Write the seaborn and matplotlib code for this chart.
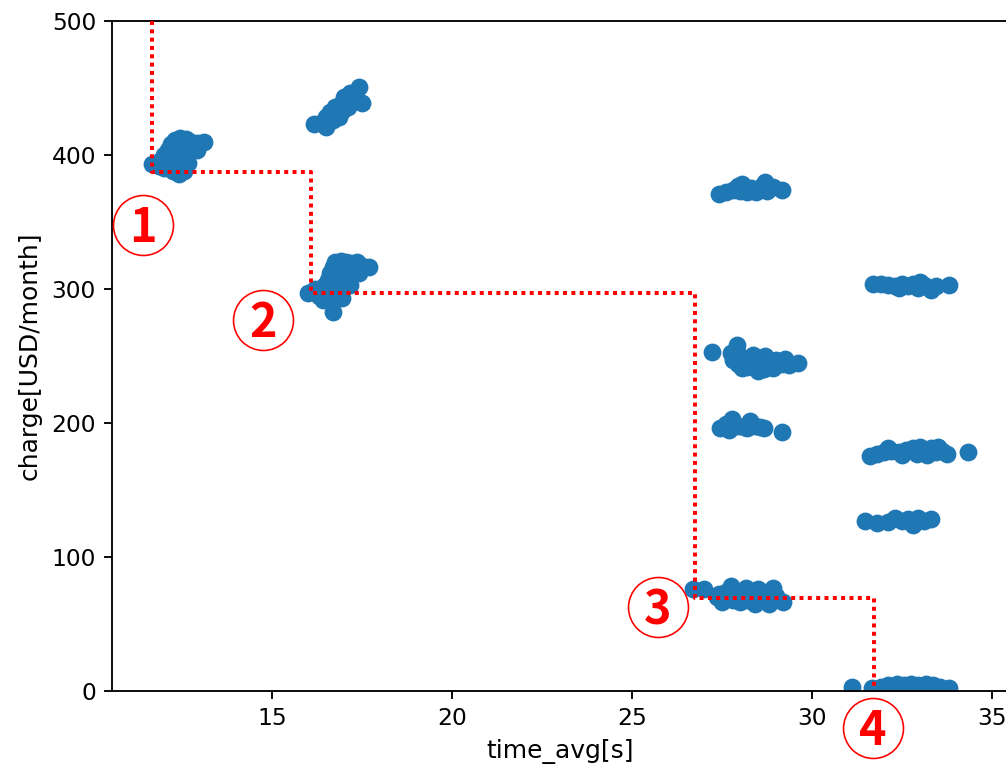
import matplotlib.pyplot as plt
import seaborn as sns
import pandas as pd

# 測定データ (time_avg[s], charge[USD/month])
time_avg = [
    # 構成 A
    11.67, 11.85, 11.9, 12.0, 12.0, 12.1, 12.1, 12.15, 12.2, 12.2, 12.25, 12.3, 12.3, 12.35, 12.4,
    12.4, 12.45, 12.45, 12.5, 12.5, 12.55, 12.6, 12.6, 12.65, 12.7, 12.75, 12.8, 12.9, 12.95, 13.1,
    # 構成 B
    16.15, 16.35, 16.5, 16.5, 16.6, 16.65, 16.7, 16.75, 16.8, 16.85, 16.9, 16.95, 17.0, 17.05,
    17.1, 17.15, 17.2, 17.3, 17.4, 17.5,
    # 構成 C
    16.0, 16.2, 16.3, 16.4, 16.4, 16.45, 16.5, 16.55, 16.6, 16.6, 16.65, 16.7, 16.7, 16.75, 16.8,
    16.85, 16.9, 16.9, 16.95, 17.0, 17.0, 17.05, 17.1, 17.15, 17.2, 17.25, 17.35, 17.4, 17.5, 17.7,
    # 構成 D
    27.4, 27.6, 27.8, 27.95, 28.05, 28.0, 28.2, 28.3, 28.45, 28.5, 28.6, 28.7, 28.75, 28.9, 29.15,
    # 構成 E
    27.22, 27.75, 27.8, 27.9, 27.95, 28.0, 28.05, 28.1, 28.2, 28.3, 28.35, 28.4, 28.5, 28.6, 28.65,
    28.7, 28.8, 28.9, 29.0, 29.15, 29.25, 29.35, 29.6,
    # 構成 F
    27.44, 27.6, 27.7, 27.78, 27.95, 28.1, 28.2, 28.28, 28.4, 28.55, 28.65, 29.17,
    # 構成 G
    26.7, 27.0, 27.35, 27.4, 27.5, 27.6, 27.75, 27.8, 27.9, 28.0, 28.15, 28.2, 28.3, 28.4, 28.5,
    28.6, 28.65, 28.8, 28.9, 29.0, 29.2,
    # 構成 H
    31.7, 31.9, 32.1, 32.3, 32.4, 32.5, 32.65, 32.8, 32.95, 33.0, 33.1, 33.3, 33.45, 33.8,
    # 構成 I
    31.6, 31.8, 32.0, 32.1, 32.2, 32.4, 32.5, 32.6, 32.8, 32.9, 33.0, 33.15, 33.2, 33.3, 33.45,
    33.5, 33.6, 33.75, 34.33,
    # 構成 J
    31.47, 31.8, 32.1, 32.3, 32.5, 32.65, 32.8, 32.95, 33.1, 33.3,
    # 構成 K
    31.1, 31.65, 31.9, 32.1, 32.25, 32.35, 32.55, 32.75, 32.85, 32.95, 33.15, 33.25, 33.35, 33.55, 33.8,
]
charge = [
    # 構成 A
    393, 392, 396, 400, 390, 404, 399, 392, 408, 395, 388, 411, 400, 390, 386,
    408, 413, 404, 392, 396, 388, 412, 398, 394, 403, 410, 405, 404, 409, 410,
    # 構成 B
    423, 424, 421, 428, 432, 429, 426, 436, 431, 428, 438, 433, 443, 440,
    436, 446, 442, 444, 451, 439,
    # 構成 C
    297, 300, 295, 292, 298, 302, 298, 307, 312, 305, 290, 316, 283, 320, 296,
    309, 321, 302, 293, 306, 314, 320, 310, 303, 319, 313, 320, 312, 317, 316,
    # 構成 D
    371, 372, 374, 377, 378, 373, 372, 375, 372, 374, 377, 380, 373, 376, 374,
    # 構成 E
    253, 252, 247, 258, 244, 250, 241, 246, 242, 248, 251, 244, 239, 246, 240,
    250, 244, 241, 247, 244, 248, 243, 245,
    # 構成 F
    196, 199, 195, 203, 198, 197, 196, 201, 198, 197, 196, 193,
    # 構成 G
    76, 76, 70, 72, 66, 74, 78, 68, 72, 66, 77, 68, 71, 65, 76,
    68, 70, 65, 77, 71, 66,
    # 構成 H
    304, 304, 303, 302, 301, 304, 302, 304, 301, 305, 303, 299, 302, 303,
    # 構成 I
    175, 177, 178, 181, 179, 178, 176, 180, 181, 177, 182, 179, 176, 181, 178,
    182, 179, 177, 178,
    # 構成 J
    127, 125, 126, 129, 127, 128, 124, 129, 127, 128,
    # 構成 K
    3, 2, 3, 4, 2, 5, 4, 5, 2, 4, 5, 2, 4, 3, 2,
]

# パレートフロンティア (赤い点線)
front_x = [11.65, 11.65, 16.08, 16.08, 26.75, 26.75, 31.72, 31.72]
front_y = [500, 387, 387, 296.7, 296.7, 69.4, 69.4, 3]

# 丸数字ラベル
label_text = ['1', '2', '3', '4']
label_x = [11.42, 14.75, 25.72, 31.69]
label_y = [347.7, 276.8, 62.5, -27.8]

df = pd.DataFrame({'time_avg': time_avg, 'charge': charge})

fig = plt.figure(figsize=(1007 / 168, 770 / 168), dpi=168)
ax = fig.add_axes([0.1115, 0.103, 0.8898, 0.8697])

sns.scatterplot(data=df, x='time_avg', y='charge', s=44, color='#1f77b4',
                edgecolor='face', linewidth=1, ax=ax, zorder=2)

ax.plot(front_x, front_y, color='#ff0000', linewidth=1.7,
        linestyle=(0, (1, 1.1)), dash_capstyle='butt', zorder=3)

for t, lx, ly in zip(label_text, label_x, label_y):
    ax.plot(lx, ly, marker='o', markersize=25.7, markerfacecolor='white',
            markeredgecolor='#ff0000', markeredgewidth=0.7, clip_on=False, zorder=4)
    ax.annotate(t, xy=(lx, ly), xytext=(0, -7.4), textcoords='offset points',
                ha='center', va='baseline', color='#ff0000', fontsize=20,
                fontweight='bold', family=['Noto Sans CJK JP', 'DejaVu Sans'],
                annotation_clip=False, zorder=5)

ax.set_xlim(10.56, 35.45)
ax.set_ylim(0, 500)
ax.set_xticks([15, 20, 25, 30, 35])
ax.set_yticks([0, 100, 200, 300, 400, 500])
ax.set_xlabel('time_avg[s]', fontsize=10.7)
ax.set_ylabel('charge[USD/month]', fontsize=10.7)

fig.savefig('out.png', dpi=168)
